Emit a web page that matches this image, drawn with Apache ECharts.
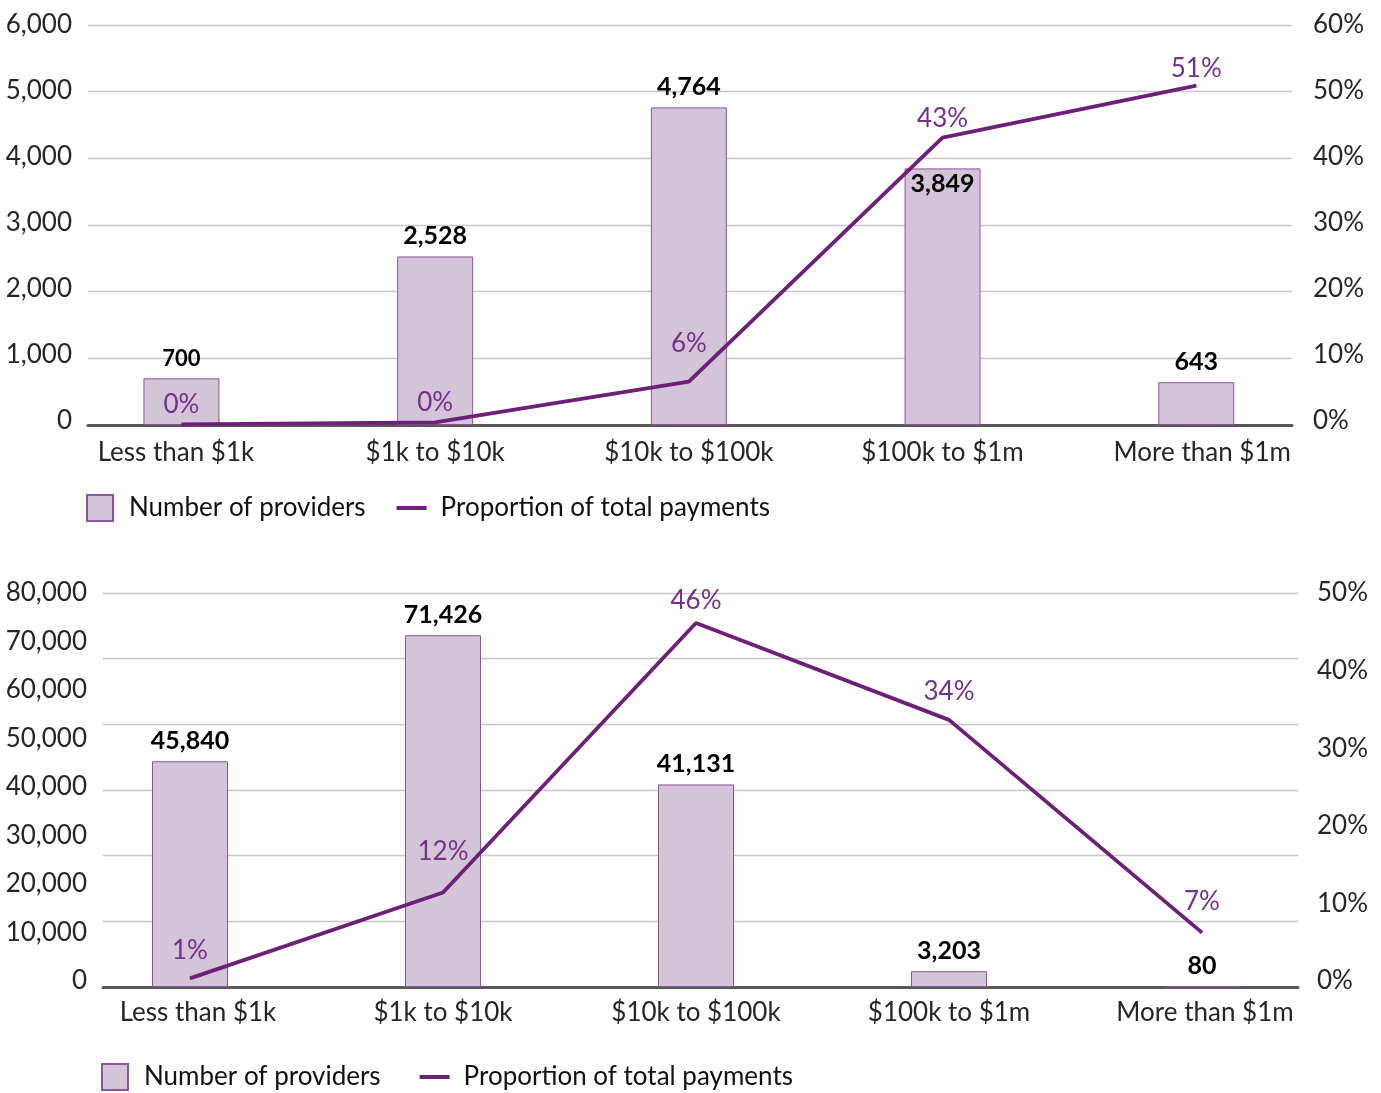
<!DOCTYPE html>
<html>
<head>
<meta charset="utf-8">
<script src="https://cdn.jsdelivr.net/npm/echarts@6/dist/echarts.min.js"></script>
<style>
  html, body { margin: 0; padding: 0; background: #ffffff; }
  #chart { width: 1381px; height: 1093px; }
</style>
</head>
<body>
<div id="chart"></div>
<script>
// ---------- Data ----------
const categories = ['Less than $1k', '$1k to $10k', '$10k to $100k', '$100k to $1m', 'More than $1m'];

// Top chart
const topProviders = [700, 2528, 4764, 3849, 643];
const topPaymentsPct = [0.1, 0.4, 6.5, 43.1, 50.9];
const topPctLabels = ['0%', '0%', '6%', '43%', '51%'];
const topLeftTicks = [0, 1000, 2000, 3000, 4000, 5000, 6000];
const topRightTicks = [0, 10, 20, 30, 40, 50, 60];

// Bottom chart
const bottomProviders = [45840, 71426, 41131, 3203, 80];
const bottomPaymentsPct = [1.1, 12.0, 46.2, 33.9, 6.9];
const bottomPctLabels = ['1%', '12%', '46%', '34%', '7%'];
const bottomLeftTicks = [0, 10000, 20000, 30000, 40000, 50000, 60000, 70000, 80000];
const bottomRightTicks = [0, 10, 20, 30, 40, 50];

const seriesNames = ['Number of providers', 'Proportion of total payments'];

// ---------- Styling ----------
const FONT = 'Lato';
const FS = 26;
const TEXT = '#262626';
const PURPLE = '#6d2077';
const LABEL_PURPLE = '#74308a';
const BAR_FILL = '#d3c4d7';
const BAR_BORDER = '#8b559a';
const GRIDLINE = '#c8c8c8';
const AXISLINE = '#595959';

// label nudges (style only)
const topLineNudge = [0, 0, -19, 0, 2];
const bottomLineNudge = [-8, -21, -3, -9, -12];
const topBarLabelPos = ['top', 'top', 'top', 'insideTop', 'top'];
const topBarLabelSize = [22, 25, 25, 25, 25];
const topCatPad = [[0, 11, 0, 0], 0, 0, 0, [0, 0, 0, 12]];
const bottomCatPad = [[0, 0, 0, 16], 0, 0, 0, [0, 0, 0, 6]];

const fmtNum = v => v.toLocaleString('en-US');

function catData(pads) {
  return categories.map((c, i) => pads[i] ? { value: c, textStyle: { padding: pads[i] } } : c);
}

function barData(vals, posArr, sizeArr, dist) {
  return vals.map((v, i) => ({
    value: v,
    label: {
      position: posArr ? posArr[i] : 'top',
      fontSize: sizeArr ? sizeArr[i] : 25,
      distance: (posArr && posArr[i] === 'insideTop') ? 3 : dist
    }
  }));
}

function lineData(vals, nudges, labels) {
  return vals.map((v, i) => ({
    value: v,
    label: { offset: [0, nudges[i]], formatter: labels[i] }
  }));
}

const labelText = { fontFamily: FONT, fontSize: FS, color: TEXT };

// ---------- Layout ----------
const grids = [
  // top chart
  { left: 54.6, width: 1268.5, top: 25, height: 400 },   // 0 data
  { left: 88, right: 89, top: 25, height: 400 },           // 1 deco
  { left: 88, right: 89, top: 25, height: 396 },           // 2 tick labels
  // bottom chart
  { left: 63.5, width: 1265, top: 593, height: 394 },      // 3 data
  { left: 103, right: 83, top: 593, height: 394 },         // 4 deco
  { left: 103, right: 83, top: 593, height: 388 }          // 5 tick labels
];

const hiddenValueX = (gi) => ({ type: 'value', gridIndex: gi, min: 0, max: 1, show: false });

const xAxes = [
  { type: 'category', gridIndex: 0, data: catData(topCatPad), boundaryGap: true,
    axisLine: { show: false }, axisTick: { show: false },
    axisLabel: Object.assign({ margin: 15, interval: 0 }, labelText) },
  { type: 'value', gridIndex: 1, min: 0, max: 1,
    axisLine: { show: true, lineStyle: { color: AXISLINE, width: 3 } },
    axisTick: { show: false }, axisLabel: { show: false }, splitLine: { show: false } },
  hiddenValueX(2),
  { type: 'category', gridIndex: 3, data: catData(bottomCatPad), boundaryGap: true,
    axisLine: { show: false }, axisTick: { show: false },
    axisLabel: Object.assign({ margin: 13, interval: 0 }, labelText) },
  { type: 'value', gridIndex: 4, min: 0, max: 1,
    axisLine: { show: true, lineStyle: { color: AXISLINE, width: 3 } },
    axisTick: { show: false }, axisLabel: { show: false }, splitLine: { show: false } },
  hiddenValueX(5)
];

const hiddenY = (gi, pos, min, max) => ({ type: 'value', gridIndex: gi, position: pos, min, max, show: false, splitLine: { show: false } });

function labelY(gi, pos, ticks, fmt, margin) {
  const min = ticks[0], max = ticks[ticks.length - 1];
  return {
    type: 'value', gridIndex: gi, position: pos, min, max, interval: ticks[1] - ticks[0],
    axisLine: { show: false }, axisTick: { show: false }, splitLine: { show: false },
    axisLabel: Object.assign({ margin, formatter: fmt }, labelText)
  };
}

function splitY(gi, n) {
  return {
    type: 'value', gridIndex: gi, min: 0, max: n, interval: 1,
    axisLine: { show: false }, axisTick: { show: false }, axisLabel: { show: false },
    splitLine: { show: true, lineStyle: { color: GRIDLINE, width: 1.3 } }
  };
}

const yAxes = [
  hiddenY(0, 'left', topLeftTicks[0], topLeftTicks[topLeftTicks.length - 1]),     // 0
  hiddenY(0, 'right', topRightTicks[0], topRightTicks[topRightTicks.length - 1]),  // 1
  splitY(1, 6),                                                                     // 2
  labelY(2, 'left', topLeftTicks, v => fmtNum(v), 16),                               // 3
  labelY(2, 'right', topRightTicks, v => v + '%', 21),                               // 4
  hiddenY(3, 'left', bottomLeftTicks[0], bottomLeftTicks[bottomLeftTicks.length - 1]),       // 5
  hiddenY(3, 'right', bottomRightTicks[0], bottomRightTicks[bottomRightTicks.length - 1]),   // 6
  splitY(4, 6),                                                                     // 7
  labelY(5, 'left', bottomLeftTicks, v => fmtNum(v), 16),                            // 8
  labelY(5, 'right', bottomRightTicks, v => v + '%', 19)                             // 9
];

function barSeries(xi, yi, data) {
  return {
    name: seriesNames[0], type: 'bar', xAxisIndex: xi, yAxisIndex: yi,
    barWidth: 76, data,
    itemStyle: { color: BAR_FILL, borderColor: BAR_BORDER, borderWidth: 1 },
    label: {
      show: true, fontFamily: FONT, fontWeight: 'bold', color: '#000',
      formatter: p => fmtNum(p.value)
    },
    z: 3
  };
}

function lineSeries(xi, yi, data) {
  return {
    name: seriesNames[1], type: 'line', xAxisIndex: xi, yAxisIndex: yi,
    data, symbol: 'circle', symbolSize: 1, showSymbol: true, smooth: false,
    lineStyle: { color: PURPLE, width: 3.8 }, itemStyle: { color: PURPLE },
    label: {
      show: true, position: 'top', distance: 6,
      fontFamily: FONT, fontSize: FS, color: LABEL_PURPLE
    },
    z: 5
  };
}

function legendAt(left, top, gap) {
  return {
    left, top, orient: 'horizontal', padding: 0,
    itemWidth: 30, itemHeight: 26, itemGap: gap,
    textStyle: { fontFamily: FONT, fontSize: FS, color: '#111', padding: [0, 0, 0, 9] },
    data: [
      { name: seriesNames[0], icon: 'path://M0,0H10V10H0Z' },
      { name: seriesNames[1], icon: 'path://M0,0H30V4H0Z', itemStyle: { color: PURPLE, borderWidth: 0 } }
    ],
    selectedMode: false
  };
}

const option = {
  backgroundColor: '#ffffff',
  animation: false,
  grid: grids,
  xAxis: xAxes,
  yAxis: yAxes,
  legend: [legendAt(86, 494, 31), legendAt(101, 1063, 39)],
  series: [
    barSeries(0, 0, barData(topProviders, topBarLabelPos, topBarLabelSize, 8)),
    lineSeries(0, 1, lineData(topPaymentsPct, topLineNudge, topPctLabels)),
    barSeries(3, 5, barData(bottomProviders, null, null, 8)),
    lineSeries(3, 6, lineData(bottomPaymentsPct, bottomLineNudge, bottomPctLabels))
  ]
};

const chart = echarts.init(document.getElementById('chart'), null, { renderer: 'canvas' });
chart.setOption(option);
</script>
</body>
</html>
